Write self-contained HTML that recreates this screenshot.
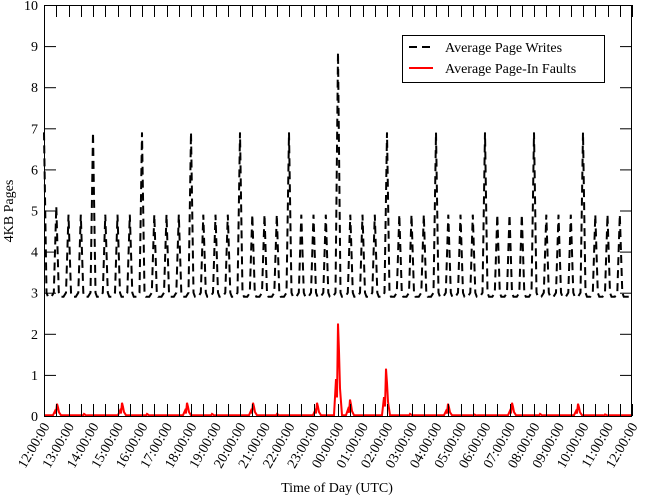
<!DOCTYPE html>
<html><head><meta charset="utf-8"><style>
body{margin:0;background:#fff}
svg{display:block}
text{font-family:"Liberation Serif",serif;fill:#000}
</style></head><body>
<svg id="s" width="650" height="498" xmlns="http://www.w3.org/2000/svg">
<rect x="0" y="0" width="650" height="498" fill="#fff"/>
<g id="g"></g>
<rect x="44.5" y="5.5" width="587" height="411" fill="none" stroke="#000" stroke-width="1"/>
<g id="t" stroke="#000" stroke-width="1"></g>
<g id="lab" font-size="14"></g>
<text x="337" y="492" font-size="14" text-anchor="middle">Time of Day (UTC)</text>
<text transform="translate(13,211) rotate(-90)" font-size="14" text-anchor="middle">4KB Pages</text>
<rect x="402.5" y="35.5" width="202" height="47" fill="#fff" stroke="#000"/>
<line x1="409" y1="47" x2="433" y2="47" stroke="#000" stroke-width="2" stroke-dasharray="8,5"/>
<line x1="409" y1="68" x2="433" y2="68" stroke="#f00" stroke-width="2"/>
<text x="445" y="52" font-size="14">Average Page Writes</text>
<text x="445" y="73" font-size="14">Average Page-In Faults</text>
</svg>
<script>
var ns="http://www.w3.org/2000/svg";
function Y(v){return 416-41.1*v;}
var x0=44,x1=632,hp=24.5;
var t=document.getElementById('t'),lab=document.getElementById('lab'),g=document.getElementById('g');
function ln(p,a,b,c,d){var l=document.createElementNS(ns,'line');l.setAttribute('x1',a);l.setAttribute('y1',b);l.setAttribute('x2',c);l.setAttribute('y2',d);p.appendChild(l);}
for(var v=0;v<=10;v++){var y=Y(v)+0.5;ln(t,44,y,56,y);ln(t,620,y,632,y);
var tx=document.createElementNS(ns,'text');tx.setAttribute('x',38);tx.setAttribute('y',Y(v)+5);tx.setAttribute('text-anchor','end');tx.textContent=v;lab.appendChild(tx);}
for(var i=0;i<=48;i++){var x=Math.round(x0+i*hp/2)+0.5;ln(t,x,5,x,17);ln(t,x,416,x,404);}
for(var h=0;h<=24;h++){var x=x0+h*hp;var hh=(12+h)%24;var s=(hh<10?'0':'')+hh+':00:00';
var tx=document.createElementNS(ns,'text');tx.setAttribute('transform','translate('+(x+6)+',426) rotate(-60)');tx.setAttribute('text-anchor','end');tx.textContent=s;lab.appendChild(tx);}
// writes
var pts=[];
for(var k=0;k<=47;k++){var xc=x0+k*12.25;var pk=(k%4==0)?6.9:4.9;if(k==24)pk=8.85;if(k==1)pk=5.1;
if(xc>x0){pts.push([xc-5,2.9]);pts.push([xc-2.5,3.0]);}pts.push([xc,pk]);pts.push([xc+2.5,3.0]);pts.push([xc+4,2.9]);}
pts.push([x1-2,2.9]);
var d='M'+pts.map(function(p){return p[0].toFixed(1)+','+Y(p[1]).toFixed(1)}).join(' L');
var p=document.createElementNS(ns,'path');p.setAttribute('d',d);p.setAttribute('fill','none');p.setAttribute('stroke','#000');p.setAttribute('stroke-width','2');p.setAttribute('stroke-dasharray','8,5');g.appendChild(p);
// faults
var sp=[[57,0.3],[122,0.32],[187,0.32],[253,0.32],[317,0.32],[338,2.25],[350,0.4],[386,1.15],[448,0.3],[512,0.32],[578,0.3],[84,0.05],[147,0.05],[212,0.05],[277,0.05],[410,0.05],[474,0.04],[540,0.05],[605,0.04]];
sp.sort(function(a,b){return a[0]-b[0]});
var r=[[x0,0.02]];
sp.forEach(function(s){var x=s[0],v=s[1];r.push([x-4,0.02]);r.push([x-2,v*0.4]);r.push([x-1,v*0.2]);r.push([x,v]);r.push([x+1,v*0.7]);r.push([x+2,v*0.3]);r.push([x+4,0.02]);});
r.push([x1,0.02]);
d='M'+r.map(function(p){return p[0].toFixed(1)+','+Y(p[1]).toFixed(1)}).join(' L');
p=document.createElementNS(ns,'path');p.setAttribute('d',d);p.setAttribute('fill','none');p.setAttribute('stroke','#f00');p.setAttribute('stroke-width','2');g.appendChild(p);
</script>
</body></html>
